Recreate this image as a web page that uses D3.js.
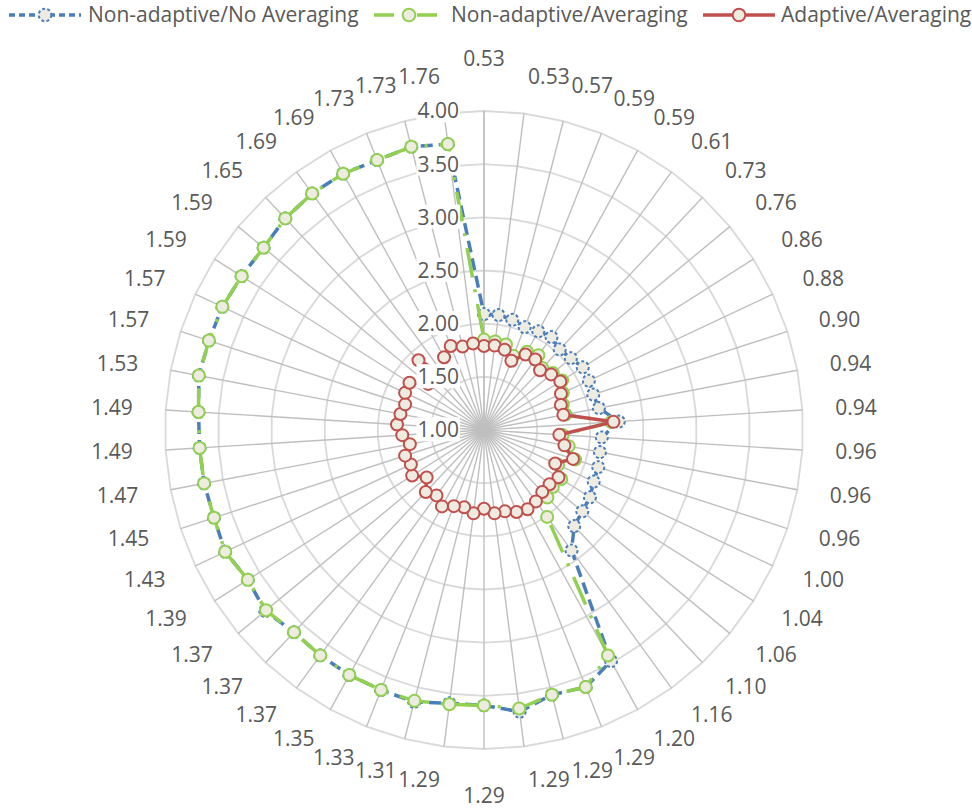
<!DOCTYPE html>
<html>
<head>
<meta charset="utf-8">
<script src="https://cdn.jsdelivr.net/npm/d3@7"></script>
<style>
  html, body { margin: 0; padding: 0; background: #ffffff; }
  svg { display: block; }
  text { font-family: "Open Sans", "Noto Sans", sans-serif; fill: #595959; }
</style>
</head>
<body>
<svg id="chart" width="972" height="811"></svg>
<script>
// ---------- DATA ----------
const categories = ["0.53","0.53","0.57","0.59","0.59","0.61","0.73","0.76","0.86","0.88",
  "0.90","0.94","0.94","0.96","0.96","0.96","1.00","1.04","1.06","1.10",
  "1.16","1.20","1.29","1.29","1.29","1.29","1.29","1.31","1.33","1.35",
  "1.37","1.37","1.37","1.39","1.43","1.45","1.47","1.49","1.49","1.53",
  "1.57","1.57","1.59","1.59","1.65","1.69","1.69","1.73","1.73","1.76"];

const seriesNames = ["Non-adaptive/No Averaging", "Non-adaptive/Averaging", "Adaptive/Averaging"];

const nonAdaptiveNoAvg = [2.09,2.09,2.07,2.04,2.06,2.08,2.04,2.06,2.10,2.09,
  2.08,2.10,2.27,2.11,2.11,2.13,2.14,2.18,2.20,2.24,
  2.40,3.48,3.60,3.57,3.67,3.59,3.59,3.64,3.63,3.63,
  3.62,3.61,3.67,3.63,3.69,3.67,3.68,3.68,3.69,3.73,
  3.72,3.72,3.70,3.69,3.73,3.75,3.75,3.73,3.75,3.71];

const nonAdaptiveAvg = [1.85,1.84,1.83,1.75,1.84,1.87,1.80,1.84,1.87,1.82,
  1.78,1.78,2.20,1.74,1.81,1.90,1.77,1.86,1.84,1.87,
  2.01,3.42,3.60,3.57,3.64,3.59,3.60,3.63,3.63,3.63,
  3.62,3.61,3.66,3.63,3.69,3.67,3.68,3.68,3.69,3.73,
  3.72,3.72,3.70,3.69,3.73,3.75,3.75,3.73,3.75,3.71];

const adaptiveAvg = [1.79,1.80,1.78,1.70,1.81,1.82,1.77,1.82,1.85,1.80,
  1.76,1.76,2.22,1.71,1.77,1.88,1.74,1.83,1.80,1.80,
  1.83,1.85,1.83,1.79,1.79,1.74,1.79,1.75,1.77,1.82,
  1.76,1.80,1.70,1.80,1.76,1.78,1.71,1.77,1.82,1.80,
  1.78,1.82,1.83,1.68,1.90,1.66,1.78,1.85,1.81,1.82];

const axisTicks = [1.00, 1.50, 2.00, 2.50, 3.00, 3.50, 4.00];

// ---------- LAYOUT / STYLE ----------
const cx = 484, cy = 430, outerR = 319, labelR = 352;
const fontSize = 21;
const styles = [
  { color: "#4A7EBB", dash: "12,6", markerDash: "3,2.2" },
  { color: "#92D050", dash: "30,12,3,12", markerDash: null },
  { color: "#C0504D", dash: null, markerDash: null }
];
const markerFill = "#EEECE1";

const svg = d3.select("#chart");
const n = categories.length;
const r = d3.scaleLinear().domain([1, 4]).range([0, outerR]);
const angle = d3.scaleLinear().domain([0, n]).range([0, 2 * Math.PI]);

const g = svg.append("g").attr("transform", `translate(${cx},${cy})`);

// grid rings (polygons)
const ringLine = d3.lineRadial().angle((d, i) => angle(i)).radius(d => r(d)).curve(d3.curveLinearClosed);
axisTicks.filter(t => t > 1).forEach(t => {
  g.append("path")
    .attr("d", ringLine(d3.range(n).map(() => t)))
    .attr("fill", "none").attr("stroke", "#d9d9d9").attr("stroke-width", 1.8);
});

// spokes
g.selectAll("line.spoke").data(d3.range(n)).enter().append("line")
  .attr("class", "spoke")
  .attr("x1", 0).attr("y1", 0)
  .attr("x2", i => r(4) * Math.sin(angle(i)))
  .attr("y2", i => -r(4) * Math.cos(angle(i)))
  .attr("stroke", "#bfbfbf").attr("stroke-width", i => i === 0 ? 1.8 : 1.4);

// series
const allSeries = [nonAdaptiveNoAvg, nonAdaptiveAvg, adaptiveAvg];
const seriesLine = d3.lineRadial().angle((d, i) => angle(i)).radius(d => r(d)).curve(d3.curveLinearClosed);

allSeries.forEach((vals, si) => {
  const st = styles[si];
  const sg = g.append("g");
  sg.append("path")
    .attr("d", seriesLine(vals))
    .attr("fill", "none")
    .attr("stroke", st.color)
    .attr("stroke-width", 3.5)
    .attr("stroke-linejoin", "round")
    .attr("stroke-dasharray", st.dash);
  sg.selectAll("circle").data(vals).enter().append("circle")
    .attr("cx", (d, i) => r(d) * Math.sin(angle(i)))
    .attr("cy", (d, i) => -r(d) * Math.cos(angle(i)))
    .attr("r", 6)
    .attr("fill", markerFill)
    .attr("stroke", st.color)
    .attr("stroke-width", 2)
    .attr("stroke-dasharray", st.markerDash);
});

// category labels
categories.forEach((lab, i) => {
  const th = angle(i);
  const s = Math.sin(th), c = Math.cos(th);
  const ax = labelR * s, ay = -labelR * c;
  let anchor, x = ax, y;
  if (i === 0) { anchor = "middle"; y = ay - 19; }
  else if (i === n / 2) { anchor = "middle"; y = ay + 14; }
  else {
    anchor = s > 0 ? "start" : "end";
    y = ay - 4 * Math.max(c, 0);
  }
  g.append("text")
    .attr("x", x).attr("y", y).attr("dy", "0.35em")
    .attr("text-anchor", anchor)
    .attr("font-size", fontSize)
    .text(lab);
});

// radial axis tick labels with white background
axisTicks.forEach(t => {
  const ty = -r(t);
  const txt = g.append("text")
    .attr("x", -25).attr("y", ty).attr("dy", "0.35em")
    .attr("text-anchor", "end")
    .attr("font-size", fontSize)
    .text(t.toFixed(2));
  const bb = txt.node().getBBox();
  g.insert("rect", function() { return txt.node(); })
    .attr("x", bb.x - 1).attr("y", bb.y + 2)
    .attr("width", bb.width + 2).attr("height", bb.height - 4)
    .attr("fill", "#ffffff");
});

// legend
const legendItems = [
  { x1: 9, x2: 81, tx: 88 },
  { x1: 374, x2: 444, tx: 451 },
  { x1: 703, x2: 775, tx: 781 }
];
const ly = 15;
const lg = svg.append("g");
legendItems.forEach((it, si) => {
  const st = styles[si];
  lg.append("line")
    .attr("x1", it.x1).attr("x2", it.x2).attr("y1", ly).attr("y2", ly)
    .attr("stroke", st.color).attr("stroke-width", 3.5)
    .attr("stroke-dasharray", si === 0 ? "6,4" : (si === 1 ? "20,10,3,10" : null));
  lg.append("circle")
    .attr("cx", (it.x1 + it.x2) / 2).attr("cy", ly).attr("r", 6.3)
    .attr("fill", markerFill).attr("stroke", st.color).attr("stroke-width", 2)
    .attr("stroke-dasharray", st.markerDash);
  lg.append("text")
    .attr("x", it.tx).attr("y", ly).attr("dy", "0.35em")
    .attr("font-size", fontSize)
    .text(seriesNames[si]);
});
</script>
</body>
</html>
